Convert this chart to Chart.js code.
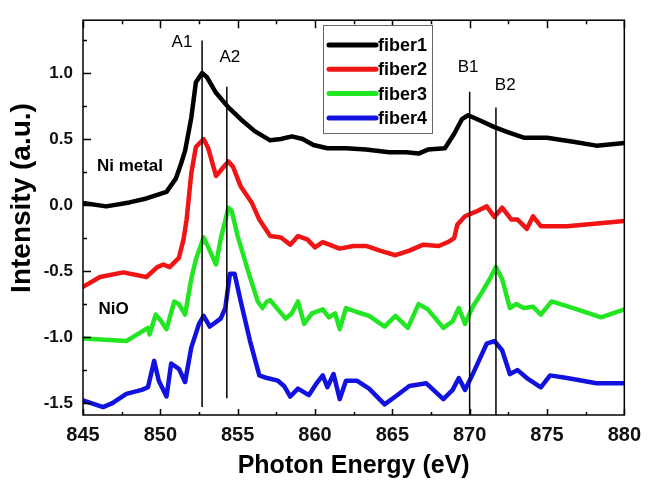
<!DOCTYPE html>
<html>
<head>
<meta charset="utf-8">
<script src="https://cdn.jsdelivr.net/npm/chart.js@4/dist/chart.umd.min.js"></script>
<style>
  body { margin: 0; background: #fff; }
  canvas { display: block; }
</style>
</head>
<body>
<canvas id="xas" width="649" height="481"></canvas>
<script>
// --- data ---
const fiber1X = [845.0, 846.5, 848.0, 849.1, 850.4, 851.0, 851.3, 851.6, 852.0, 852.3, 852.7, 853.0, 853.6, 854.4, 855.2, 856.1, 857.1, 857.8, 858.5, 859.2, 859.9, 860.8, 862.0, 863.3, 864.8, 865.9, 866.7, 867.3, 868.4, 869.0, 869.5, 869.9, 870.5, 871.6, 872.5, 873.5, 875.0, 876.7, 878.2, 880.0];
const fiber1Y = [0.015, -0.01, 0.02, 0.05, 0.10, 0.20, 0.30, 0.41, 0.66, 0.93, 1.00, 0.97, 0.85, 0.74, 0.65, 0.56, 0.49, 0.50, 0.52, 0.50, 0.455, 0.43, 0.43, 0.42, 0.40, 0.40, 0.39, 0.42, 0.43, 0.54, 0.65, 0.68, 0.65, 0.59, 0.55, 0.51, 0.51, 0.48, 0.45, 0.47];

const fiber2X = [845.0, 846.1, 847.6, 849.1, 849.8, 850.2, 850.6, 851.2, 851.5, 851.7, 852.0, 852.3, 852.8, 853.1, 853.6, 854.1, 854.4, 854.7, 855.2, 855.9, 856.4, 857.1, 857.8, 858.4, 858.9, 859.5, 860.0, 860.5, 861.6, 862.5, 863.3, 864.2, 865.2, 866.1, 867.0, 868.0, 868.6, 869.0, 869.2, 869.7, 870.4, 871.1, 871.6, 872.1, 872.7, 873.1, 873.7, 874.1, 874.6, 876.3, 880.0];
const fiber2Y = [-0.62, -0.545, -0.51, -0.545, -0.47, -0.45, -0.47, -0.40, -0.26, -0.11, 0.24, 0.44, 0.50, 0.43, 0.22, 0.29, 0.33, 0.29, 0.14, 0.02, -0.11, -0.235, -0.245, -0.30, -0.235, -0.26, -0.32, -0.28, -0.33, -0.31, -0.31, -0.345, -0.38, -0.345, -0.30, -0.31, -0.28, -0.25, -0.15, -0.085, -0.05, -0.01, -0.09, -0.02, -0.11, -0.11, -0.18, -0.085, -0.16, -0.16, -0.12];

const fiber3X = [845.0, 847.8, 849.2, 849.3, 849.7, 850.0, 850.4, 850.9, 851.2, 851.6, 852.0, 852.3, 852.8, 853.1, 853.6, 853.9, 854.4, 854.6, 855.0, 855.7, 856.3, 856.6, 856.9, 857.1, 857.6, 858.1, 858.5, 858.9, 859.3, 859.8, 860.5, 860.9, 861.3, 861.6, 862.0, 862.7, 863.5, 864.5, 865.2, 866.0, 866.7, 867.3, 868.3, 868.9, 869.3, 869.7, 870.2, 870.8, 871.3, 871.7, 872.1, 872.6, 873.0, 873.5, 874.1, 874.6, 875.3, 876.7, 878.5, 880.0];
const fiber3Y = [-1.01, -1.03, -0.93, -0.98, -0.83, -0.87, -0.94, -0.73, -0.75, -0.83, -0.56, -0.41, -0.245, -0.32, -0.45, -0.26, -0.02, -0.04, -0.235, -0.51, -0.73, -0.78, -0.73, -0.72, -0.79, -0.86, -0.82, -0.73, -0.90, -0.82, -0.79, -0.85, -0.82, -0.94, -0.78, -0.81, -0.84, -0.92, -0.84, -0.93, -0.75, -0.79, -0.93, -0.88, -0.78, -0.90, -0.77, -0.66, -0.56, -0.47, -0.56, -0.78, -0.75, -0.78, -0.77, -0.83, -0.73, -0.78, -0.85, -0.79];

const fiber4X = [845.0, 846.3, 846.9, 847.8, 848.8, 849.2, 849.6, 849.9, 850.4, 850.7, 851.2, 851.6, 852.0, 852.5, 852.8, 853.2, 853.9, 854.2, 854.5, 854.8, 855.2, 855.8, 856.4, 856.9, 857.6, 858.0, 858.4, 858.9, 859.6, 860.1, 860.5, 860.8, 861.2, 861.6, 862.0, 862.7, 863.5, 864.5, 865.2, 866.1, 867.2, 868.3, 868.9, 869.3, 869.7, 870.2, 871.1, 871.6, 872.1, 872.6, 873.1, 873.7, 874.6, 875.2, 876.3, 878.2, 880.0];
const fiber4Y = [-1.48, -1.53, -1.50, -1.43, -1.40, -1.38, -1.18, -1.33, -1.45, -1.20, -1.24, -1.34, -1.08, -0.90, -0.84, -0.92, -0.86, -0.78, -0.52, -0.52, -0.73, -1.03, -1.29, -1.31, -1.33, -1.37, -1.45, -1.39, -1.44, -1.35, -1.29, -1.38, -1.28, -1.47, -1.33, -1.33, -1.39, -1.51, -1.45, -1.37, -1.35, -1.47, -1.40, -1.31, -1.40, -1.28, -1.05, -1.03, -1.10, -1.28, -1.25, -1.31, -1.38, -1.29, -1.31, -1.35, -1.35];

const seriesNames = ['fiber1', 'fiber2', 'fiber3', 'fiber4'];
const seriesColors = ['#000000', '#f01414', '#22e622', '#1212e0'];

// peak marker lines A1, A2, B1, B2
const markerNames = ['A1', 'A2', 'B1', 'B2'];
const markerX = [852.7, 854.3, 870.0, 871.7];
const markerTop = [1.246, 0.896, 0.858, 0.739];
const markerBottom = [-1.53, -1.463, -1.59, -1.59];
const markerLabelX = [851.4, 854.5, 869.9, 872.3];
const markerLabelY = [1.23, 1.12, 1.045, 0.91];

const xTicks = [845, 850, 855, 860, 865, 870, 875, 880];
const yTicks = [-1.5, -1.0, -0.5, 0.0, 0.5, 1.0];

const FONT = "'Liberation Sans', Arial, sans-serif";

const toPoints = (xs, ys) => xs.map((x, i) => ({x: x, y: ys[i]}));

let datasets = [];
markerX.forEach((mx, i) => {
    datasets.push({
        label: markerNames[i],
        data: [{x: mx, y: markerTop[i]}, {x: mx, y: markerBottom[i]}],
        borderColor: '#000',
        borderWidth: 1.5,
        pointRadius: 0,
        tension: 0
    });
});
const allX = [fiber1X, fiber2X, fiber3X, fiber4X];
const allY = [fiber1Y, fiber2Y, fiber3Y, fiber4Y];
seriesNames.forEach((name, i) => {
    datasets.push({
        label: name,
        data: toPoints(allX[i], allY[i]),
        borderColor: seriesColors[i],
        borderWidth: 4.5,
        pointRadius: 0,
        tension: 0,
        borderJoinStyle: 'round',
        borderCapStyle: 'round'
    });
});

// inward ticks + closed frame
const framePlugin = {
    id: 'frame',
    afterDraw(chart) {
        const {ctx, chartArea: a, scales: {x, y}} = chart;
        ctx.save();
        ctx.strokeStyle = '#000';
        ctx.lineWidth = 1.5;
        ctx.strokeRect(a.left, a.top, a.right - a.left, a.bottom - a.top);
        ctx.beginPath();
        for (let v = 845; v <= 880; v += 2.5) {
            const px = Math.round(x.getPixelForValue(v)) + 0.5;
            const major = v % 5 === 0;
            ctx.moveTo(px, a.bottom);
            ctx.lineTo(px, a.bottom - (major ? 6 : 3));
            ctx.moveTo(px, a.top);
            ctx.lineTo(px, a.top + (major ? 8 : 4));
        }
        for (let v = -1.5; v <= 1.25; v += 0.25) {
            const py = Math.round(y.getPixelForValue(v)) + 0.5;
            const major = Math.abs(v * 2 - Math.round(v * 2)) < 1e-6;
            ctx.moveTo(a.left, py);
            ctx.lineTo(a.left + (major ? 8 : 4), py);
        }
        ctx.stroke();
        ctx.restore();
    }
};

// labels inside the plot, the y title and the boxed legend
const notesPlugin = {
    id: 'notes',
    afterDraw(chart) {
        const {ctx, chartArea: a, scales: {x, y}} = chart;
        ctx.save();
        ctx.fillStyle = '#000';
        ctx.textBaseline = 'middle';

        ctx.font = '17px ' + FONT;
        ctx.textAlign = 'center';
        markerNames.forEach((n, i) => {
            ctx.fillText(n, x.getPixelForValue(markerLabelX[i]), y.getPixelForValue(markerLabelY[i]));
        });

        ctx.font = 'bold 17px ' + FONT;
        ctx.textAlign = 'left';
        ctx.fillText('Ni metal', x.getPixelForValue(845.9), y.getPixelForValue(0.29));
        ctx.fillText('NiO', x.getPixelForValue(846.0), y.getPixelForValue(-0.79));

        // y title
        ctx.save();
        ctx.translate(22, 198);
        ctx.rotate(-Math.PI / 2);
        ctx.textAlign = 'center';
        ctx.font = 'bold 28px ' + FONT;
        ctx.fillText('Intensity (a.u.)', 0, 0);
        ctx.restore();

        // legend
        const lx = 323, ly = 25, lw = 109, lh = 108;
        ctx.fillStyle = '#fff';
        ctx.fillRect(lx, ly, lw, lh);
        ctx.strokeStyle = '#666';
        ctx.lineWidth = 1;
        ctx.strokeRect(lx + 0.5, ly + 0.5, lw, lh);
        ctx.font = 'bold 18px ' + FONT;
        seriesNames.forEach((n, i) => {
            const ry = ly + 20 + i * 24.3;
            ctx.strokeStyle = seriesColors[i];
            ctx.lineWidth = 5;
            ctx.lineCap = 'round';
            ctx.beginPath();
            ctx.moveTo(lx + 6, ry);
            ctx.lineTo(lx + 53, ry);
            ctx.stroke();
            ctx.fillStyle = '#000';
            ctx.fillText(n, lx + 55, ry + 1);
        });
        ctx.restore();
    }
};

const config = {
    type: 'line',
    data: {datasets: datasets},
    options: {
        responsive: false,
        animation: false,
        layout: {padding: {top: 14, right: 18, left: 0, bottom: 0}},
        plugins: {
            legend: {display: false},
            tooltip: {enabled: false}
        },
        scales: {
            x: {
                type: 'linear',
                min: 845,
                max: 880,
                grid: {display: false, drawTicks: false},
                border: {display: false},
                afterBuildTicks: (s) => { s.ticks = xTicks.map(v => ({value: v})); },
                afterFit: (s) => { s.height = 66; },
                ticks: {
                    color: '#111',
                    padding: 8,
                    maxRotation: 0,
                    font: {family: FONT, size: 20, weight: 'bold'},
                    callback: (v) => v
                },
                title: {
                    display: true,
                    text: 'Photon Energy (eV)',
                    color: '#000',
                    padding: 0,
                    font: {family: FONT, size: 25, weight: 'bold'}
                }
            },
            y: {
                type: 'linear',
                min: -1.59,
                max: 1.40,
                grid: {display: false, drawTicks: false},
                border: {display: false},
                afterBuildTicks: (s) => { s.ticks = yTicks.map(v => ({value: v})); },
                afterFit: (s) => { s.width = 83; },
                ticks: {
                    color: '#111',
                    padding: 10,
                    font: {family: FONT, size: 17, weight: 'bold'},
                    callback: (v) => v.toFixed(1)
                }
            }
        }
    },
    plugins: [framePlugin, notesPlugin]
};

const myChart = new Chart(document.getElementById('xas').getContext('2d'), config);
</script>
</body>
</html>
